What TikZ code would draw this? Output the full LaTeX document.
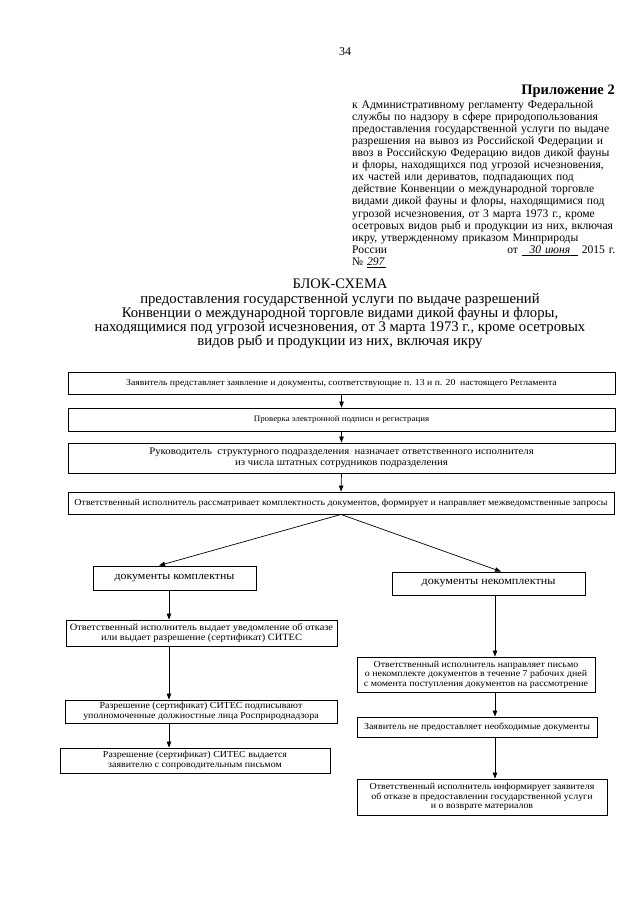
\documentclass[tikz,border=0pt]{standalone}
\usepackage{fontspec}
\setmainfont{Liberation Serif}
\newfontfamily\boxfont[FakeStretch=1.08]{Liberation Serif}
\usetikzlibrary{positioning,arrows.meta}
\newcommand{\hdl}[1]{\makebox[\linewidth][s]{#1}}
\newcommand{\fsz}[1]{\fontsize{#1}{1.05\dimexpr#1pt\relax}\selectfont}
\tikzset{
  blk/.style={draw, line width=0.9pt, rectangle, inner sep=1pt, align=center, font=\boxfont\fsz{9.2}},
  flow/.style={-{Triangle[length=6pt,width=4.5pt]}, line width=0.7pt},
}

\begin{document}
\begin{tikzpicture}[x=1pt, y=-1pt]
    \useasboundingbox (0,0) rectangle (640,905);

    % page number and approval heading
    \node[font=\fsz{12}] (pnum) at (345,52) {34};
    \node[anchor=east, inner sep=0pt, font=\bfseries\fsz{14.5}] (appx) at (615,91) {Приложение 2};
    \node[anchor=north west, inner sep=0pt, text width=263pt, font=\fontsize{11.6}{12.1}\selectfont] (hdr) at (352,100) {%
        \hdl{к Административному регламенту Федеральной}\\
        \hdl{службы по надзору в сфере природопользования}\\
        \hdl{предоставления государственной услуги по выдаче}\\
        \hdl{разрешения на вывоз из Российской Федерации и}\\
        \hdl{ввоз в Российскую Федерацию видов дикой фауны}\\
        \hdl{и флоры, находящихся под угрозой исчезновения,}\\
        \hdl{их частей или дериватов, подпадающих под}\\
        \hdl{действие Конвенции о международной торговле}\\
        \hdl{видами дикой фауны и флоры, находящимися под}\\
        \hdl{угрозой исчезновения, от 3 марта 1973 г., кроме}\\
        \hdl{осетровых видов рыб и продукции из них, включая}\\
        \hdl{икру, утвержденному приказом Минприроды}\\
        \hdl{России\hfill от \underline{\itshape\ \ 30 июня\ \ } 2015 г.}\\
        № \underline{\itshape 297\,}};

    % title
    \node[font=\fsz{14.5}] (ttl) at (340,284) {БЛОК-СХЕМА};
    \node[anchor=north, inner sep=0pt, align=center, font=\fontsize{14.7}{14}\selectfont] (sub) at (340,293) {%
        предоставления государственной услуги по выдаче разрешений\\
        Конвенции о международной торговле видами дикой фауны и флоры,\\
        находящимися под угрозой исчезновения, от 3 марта 1973 г., кроме осетровых\\
        видов рыб и продукции из них, включая икру};

    % common steps
    \node[blk, minimum width=547pt, minimum height=22pt, font=\boxfont\fsz{9}] (appl) at (341.5,383)
        {Заявитель представляет заявление и документы, соответствующие п. 13 и п. 20\ \ настоящего Регламента};
    \node[blk, minimum width=547pt, minimum height=23pt, font=\boxfont\fsz{8.2}] (check) at (341.5,419.5)
        {Проверка электронной подписи и регистрация};
    \node[blk, minimum width=547pt, minimum height=30pt, font=\boxfont\fsz{10}] (assign) at (341.5,458)
        {Руководитель\ \ структурного подразделения\ \ назначает ответственного исполнителя\\из числа штатных сотрудников подразделения};
    \node[blk, minimum width=546pt, minimum height=22pt] (review) at (341,503)
        {Ответственный исполнитель рассматривает комплектность документов, формирует и направляет межведомственные запросы};

    % branch: documents complete
    \node[blk, minimum width=163pt, minimum height=24pt, font=\boxfont\fsz{11}] (full) at (174.5,578) {документы комплектны};
    \node[blk, minimum width=271pt, minimum height=26pt, font=\boxfont\fsz{9.6}] (notice) at (201.5,633)
        {Ответственный исполнитель выдает уведомление об отказе\\или выдает разрешение (сертификат) СИТЕС};
    \node[blk, minimum width=272pt, minimum height=23pt] (sign) at (201,711.5)
        {Разрешение (сертификат) СИТЕС подписывают\\уполномоченные должностные лица Росприроднадзора};
    \node[blk, minimum width=270pt, minimum height=25pt] (issue) at (195,760.5)
        {Разрешение (сертификат) СИТЕС выдается\\заявителю с сопроводительным письмом};

    % branch: documents incomplete
    \node[blk, minimum width=193pt, minimum height=23pt, font=\boxfont\fsz{11.2}] (part) at (488.5,583.5) {документы некомплектны};
    \node[blk, minimum width=238pt, minimum height=35pt] (letter) at (476,674.5)
        {Ответственный исполнитель направляет письмо\\о некомплекте документов в течение 7 рабочих дней\\с момента поступления документов на рассмотрение};
    \node[blk, minimum width=240pt, minimum height=20pt] (refuse) at (477,727)
        {Заявитель не предоставляет необходимые документы};
    \node[blk, minimum width=250pt, minimum height=36pt] (inform) at (482,797)
        {Ответственный исполнитель информирует заявителя\\об отказе в предоставлении государственной услуги\\и о возврате материалов};

    % connectors
    \coordinate (lcol) at (169,0);
    \coordinate (rcol) at (495,0);
    \draw[flow] (appl.south) -- (check.north);
    \draw[flow] (check.south) -- (assign.north);
    \draw[flow] (assign.south) -- (review.north);
    \draw[flow] (review.south) -- ([xshift=-15.5pt]full.north);
    \draw[flow] (review.south) -- ([xshift=12.5pt]part.north);
    \draw[flow] (full.south -| lcol) -- (notice.north -| lcol);
    \draw[flow] (notice.south -| lcol) -- (sign.north -| lcol);
    \draw[flow] (sign.south -| lcol) -- (issue.north -| lcol);
    \draw[flow] (part.south -| rcol) -- (letter.north -| rcol);
    \draw[flow] (letter.south -| rcol) -- (refuse.north -| rcol);
    \draw[flow] (refuse.south -| rcol) -- (inform.north -| rcol);
\end{tikzpicture}
\end{document}
